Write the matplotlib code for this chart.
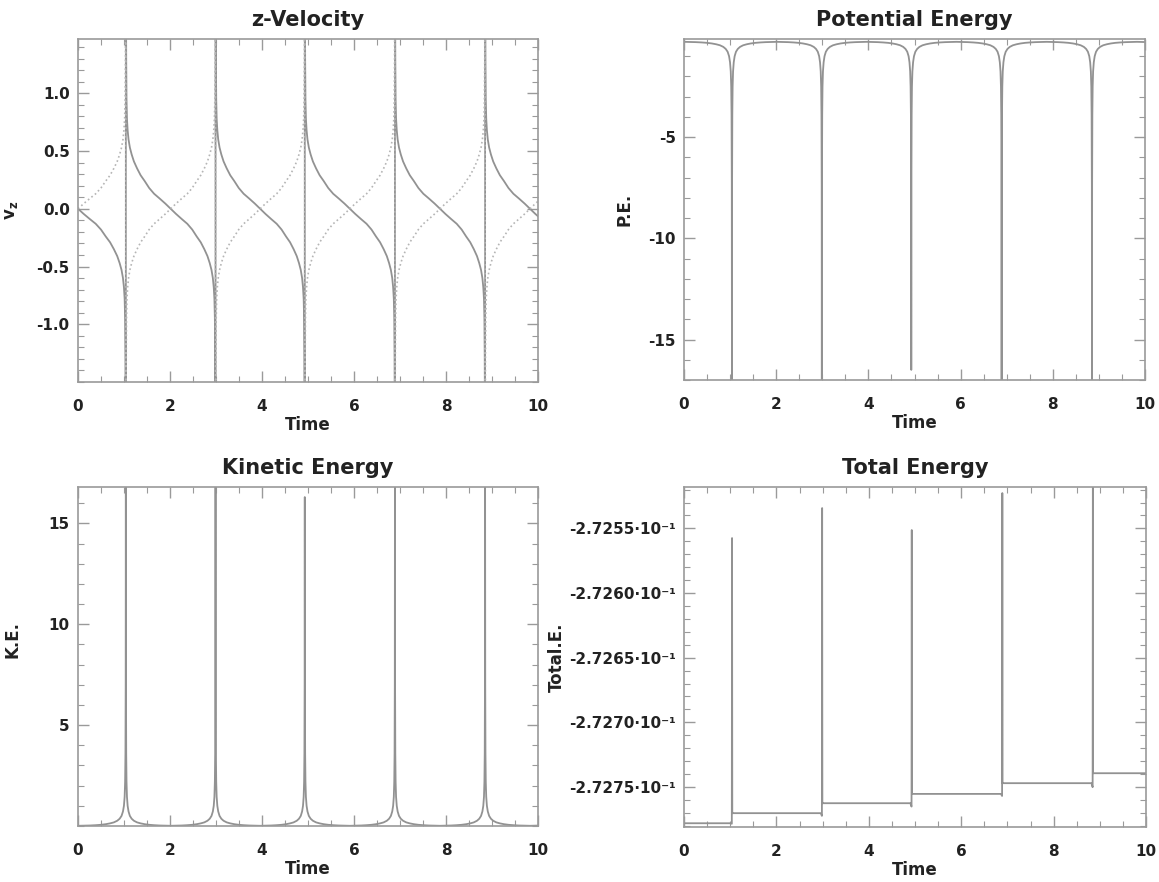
import numpy as np
import matplotlib
matplotlib.use('Agg')
import matplotlib.pyplot as plt
from matplotlib.ticker import MultipleLocator, AutoMinorLocator, FixedLocator, FuncFormatter

plt.rcParams['font.family'] = 'DejaVu Sans'
plt.rcParams['font.weight'] = 'bold'
plt.rcParams['axes.unicode_minus'] = False
plt.rcParams['mathtext.fontset'] = 'dejavusans'

# ======================
# Data
# ======================
t_spike = [1.04, 2.99, 4.93, 6.89, 8.85]   # times of close passage
t_end = 10.0

# one half-arc from a passage to the mid-point, as fraction of the half-gap
arc_frac = [0.0, 0.003, 0.008, 0.015, 0.025, 0.04, 0.06, 0.09, 0.13, 0.18,
            0.25, 0.33, 0.42, 0.52, 0.63, 0.75, 0.88, 1.0]
arc_vz = [5.8, 2.0, 1.3, 0.95, 0.78, 0.68, 0.60, 0.53, 0.47, 0.41,
          0.35, 0.29, 0.24, 0.18, 0.13, 0.09, 0.045, 0.0]
arc_ke = [16.8, 7.0, 3.6, 2.2, 1.45, 1.0, 0.72, 0.5, 0.36, 0.26,
          0.18, 0.13, 0.09, 0.06, 0.04, 0.025, 0.015, 0.01]
arc_pe = [-17.0, -7.3, -3.9, -2.5, -1.75, -1.3, -1.0, -0.78, -0.64, -0.54,
          -0.46, -0.41, -0.37, -0.34, -0.32, -0.305, -0.295, -0.29]

ke_peak = [16.8, 16.8, 16.3, 16.8, 16.8]
pe_dip = [-17.0, -17.0, -16.5, -17.0, -17.0]

# total energy: plateau between passages, small dip before, spike top at passage
e_level = [-0.2727781, -0.2727703, -0.2727626, -0.2727554, -0.2727471, -0.2727394]
e_dip = [-0.2727785, -0.2727724, -0.2727652, -0.2727570, -0.2727502]
e_peak = [-0.2725575, -0.2725343, -0.2725513, -0.2725227, -0.2725100]


def build_series(arc, odd=False, peaks=None):
    """Chain the read half-arcs between passages into one series."""
    frac = np.array(arc_frac)
    half_gap = np.diff(t_spike).mean() / 2
    sign = -1.0 if odd else 1.0
    stops = t_spike + [t_spike[-1] + 2 * half_gap]
    tt, yy = [], []
    prev = None
    for k, stop in enumerate(stops):
        a = np.array(arc, dtype=float)
        if peaks is not None and k < len(peaks):
            a[0] = peaks[k]
        if prev is None:
            h = stop
        else:
            h = (stop - prev) / 2
            b = np.array(arc, dtype=float)
            if peaks is not None:
                b[0] = peaks[k - 1]
            tt += list(prev + frac * h)
            yy += list(b)
        tt += list(stop - frac[::-1] * h)
        yy += list(sign * a[::-1])
        prev = stop
    return np.array(tt), np.array(yy)


t_vz, vz = build_series(arc_vz, odd=True)
t_ke, ke = build_series(arc_ke, peaks=ke_peak)
t_pe, pe = build_series(arc_pe, peaks=pe_dip)

te_t = [0.0]
te_y = [e_level[0]]
for k, s in enumerate(t_spike):
    te_t += [s - 0.03, s - 0.005, s, s + 0.005, s + 0.03]
    te_y += [e_level[k], e_dip[k], e_peak[k], e_level[k + 1], e_level[k + 1]]
te_t.append(t_end)
te_y.append(e_level[-1])

# ======================
# Plotting
# ======================
gray = '#9a9a9a'
line_c = '#929292'
text_c = '#222222'
W, H = 1159, 882

fig = plt.figure(figsize=(W / 100, H / 100), dpi=100)


def make_ax(l, t, r, b):
    return fig.add_axes([l / W, 1 - b / H, (r - l) / W, (b - t) / H])


def style(ax, ylim, yticks, title, ylabel, ylab_x, ylab_y=0.5, fmt=None):
    ax.set_xlim(0, t_end)
    ax.set_ylim(*ylim)
    ax.xaxis.set_major_locator(MultipleLocator(2))
    ax.xaxis.set_minor_locator(AutoMinorLocator(4))
    ax.yaxis.set_major_locator(FixedLocator(yticks))
    ax.yaxis.set_minor_locator(AutoMinorLocator(5))
    if fmt is not None:
        ax.yaxis.set_major_formatter(FuncFormatter(fmt))
    ax.tick_params(which='both', direction='in', top=True, right=True,
                   color=gray, labelcolor=text_c)
    ax.tick_params(which='major', length=8, width=1, labelsize=11)
    ax.tick_params(which='minor', length=4, width=0.8)
    ax.tick_params(axis='x', pad=12)
    ax.tick_params(axis='y', pad=6)
    for sp in ax.spines.values():
        sp.set_color(gray)
        sp.set_linewidth(1.2)
    ax.set_title(title, fontsize=15, fontweight='bold', color=text_c, pad=9)
    ax.set_xlabel('Time', fontsize=12, fontweight='bold', color=text_c, labelpad=2)
    ax.set_ylabel(ylabel, fontsize=12, fontweight='bold', color=text_c)
    ax.yaxis.set_label_coords(ylab_x, ylab_y)


# z-Velocity
ax1 = make_ax(78, 39, 538, 382)
ax1.plot(t_vz, vz, color=line_c, lw=1.3)
ax1.plot(t_vz, -vz, color='#b5b5b5', lw=1.2, ls=':')
style(ax1, (-1.5, 1.47), [-1.0, -0.5, 0.0, 0.5, 1.0], 'z-Velocity',
      r'v$_\mathbf{z}$', -0.125, fmt=lambda v, p: '%.1f' % v)

# Potential Energy
ax2 = make_ax(684, 39, 1145, 380)
ax2.plot(t_pe, pe, color=line_c, lw=1.3)
style(ax2, (-17.0, -0.15), [-15, -10, -5], 'Potential Energy', 'P.E.', -0.11,
      fmt=lambda v, p: '%d' % v)

# Kinetic Energy
ax3 = make_ax(78, 487, 538, 826)
ax3.plot(t_ke, ke, color=line_c, lw=1.3)
style(ax3, (0.0, 16.8), [5, 10, 15], 'Kinetic Energy', 'K.E.', -0.122, 0.55,
      fmt=lambda v, p: '%d' % v)

# Total Energy
ax4 = make_ax(684, 487, 1146, 827)
ax4.plot(te_t, te_y, color=line_c, lw=1.3)
style(ax4, (-0.272781, -0.272518), [-0.27275, -0.27270, -0.27265, -0.27260, -0.27255],
      'Total Energy', 'Total.E.', -0.255, 0.5,
      fmt=lambda v, p: '%.4f\u00b710\u207b\u00b9' % (v * 10))

fig.savefig('out.png', dpi=100)
